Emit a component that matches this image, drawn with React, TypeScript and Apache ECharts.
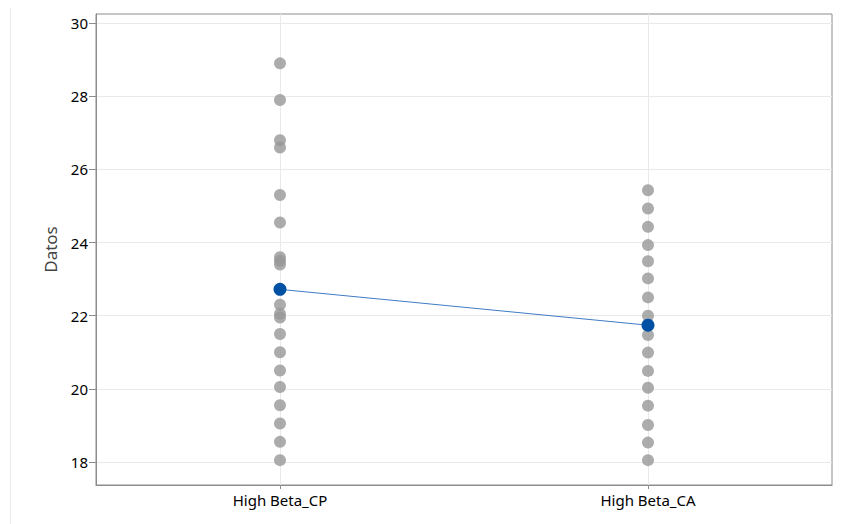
import React, { useEffect, useRef } from "react";
import * as echarts from "echarts";

const categories = ["High Beta_CP", "High Beta_CA"];
const valuesCP = [28.9, 27.9, 26.8, 26.6, 25.3, 24.55, 23.6, 23.5, 23.4, 22.3, 22.05, 21.95, 21.5, 21.0, 20.5, 20.05, 19.55, 19.05, 18.55, 18.05];
const valuesCA = [25.43, 24.93, 24.43, 23.93, 23.49, 23.02, 22.5, 22.0, 21.47, 20.99, 20.49, 20.03, 19.54, 19.01, 18.53, 18.05];
const means = [22.72, 21.74];
const yTicks = [18, 20, 22, 24, 26, 28, 30];
const xTicks = [0, 1];

export default function App() {
  const ref = useRef<HTMLDivElement>(null);
  useEffect(() => {
    if (!ref.current) return;
    const chart = echarts.init(ref.current, undefined, { renderer: "svg" });
    const font = "Noto Sans";
    const points: number[][] = [];
    valuesCP.forEach((v) => points.push([0, v]));
    valuesCA.forEach((v) => points.push([1, v]));
    chart.setOption({
      animation: false,
      backgroundColor: "#ffffff",
      grid: {
        left: 96,
        right: 26,
        top: 14,
        bottom: 39,
        show: true,
        borderColor: "#8c8c8c",
        borderWidth: 1,
      },
      graphic: [
        {
          type: "line",
          shape: { x1: 10.5, y1: 8, x2: 10.5, y2: 524 },
          style: { stroke: "#ececec", lineWidth: 1 },
          silent: true,
        },
      ],
      xAxis: {
        type: "value",
        min: -0.5,
        max: 1.5,
        axisLine: { show: true, onZero: false, lineStyle: { color: "#8c8c8c" } },
        axisTick: { show: true, length: 4, customValues: xTicks, lineStyle: { color: "#8c8c8c" } },
        axisLabel: {
          customValues: xTicks,
          formatter: (v: number) => categories[Math.round(v)] ?? "",
          color: "#000000",
          fontSize: 15,
          fontFamily: font,
          margin: 7,
        },
        splitLine: { show: true, lineStyle: { color: "#e9e9e9", width: 1 } },
      },
      yAxis: {
        type: "value",
        min: 17.37,
        max: 30.25,
        name: "Datos",
        nameLocation: "middle",
        nameGap: 37,
        nameTextStyle: { color: "#444444", fontSize: 17, fontFamily: font },
        axisLine: { show: true, onZero: false, lineStyle: { color: "#8c8c8c" } },
        axisTick: { show: true, length: 7, customValues: yTicks, lineStyle: { color: "#8c8c8c" } },
        axisLabel: {
          customValues: yTicks,
          color: "#000000",
          fontSize: 15,
          fontFamily: font,
          margin: 8,
        },
        splitLine: { show: true, lineStyle: { color: "#e9e9e9", width: 1 } },
      },
      series: [
        {
          type: "scatter",
          data: points,
          symbol: "circle",
          symbolSize: 12,
          itemStyle: { color: "#979797" },
          z: 2,
        },
        {
          type: "line",
          data: means.map((m, i) => [i, m]),
          symbol: "circle",
          symbolSize: 13,
          lineStyle: { color: "#3f7cc4", width: 1 },
          itemStyle: { color: "#0051a3" },
          z: 3,
        },
      ],
    });
    return () => chart.dispose();
  }, []);
  return (
    <div
      ref={ref}
      style={{ position: "fixed", left: 0, top: 0, width: 858, height: 524 }}
    />
  );
}
